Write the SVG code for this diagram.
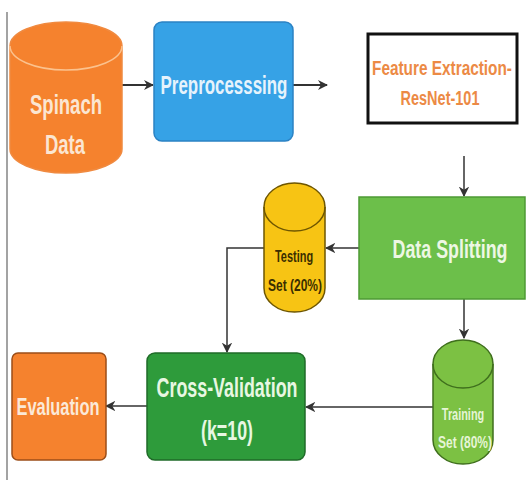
<svg xmlns="http://www.w3.org/2000/svg" width="531" height="485" viewBox="0 0 531 485">
<style>
text{font-family:"Liberation Sans",Arial,sans-serif;font-weight:bold;text-anchor:middle}
.lt{fill:#fbe6d2}
.conn{stroke:#333;stroke-width:2;fill:none}
.thin{stroke:#333;stroke-width:1.5;fill:none}
</style>
<defs>
<marker id="ah" viewBox="0 0 10 10" refX="9" refY="5" markerWidth="5" markerHeight="5" orient="auto" markerUnits="strokeWidth">
<path d="M0,0 L10,5 L0,10 L3,5 Z" fill="#333"/>
</marker>
<marker id="ah2" viewBox="0 0 10 10" refX="9" refY="5" markerWidth="7" markerHeight="7" orient="auto" markerUnits="strokeWidth">
<path d="M0,0 L10,5 L0,10 L3,5 Z" fill="#333"/>
</marker>
</defs>
<rect width="531" height="485" fill="#fff"/>
<line x1="7" y1="12" x2="7" y2="480" stroke="#666" stroke-width="1.2"/>
<g id="connectors">
<line class="conn" x1="122" y1="85" x2="153" y2="85" marker-end="url(#ah)"/>
<line class="conn" x1="293" y1="85" x2="327" y2="85" marker-end="url(#ah)"/>
<line class="thin" x1="464" y1="156" x2="464" y2="196" marker-end="url(#ah2)"/>
<line class="thin" x1="359" y1="248" x2="326" y2="248" marker-end="url(#ah2)"/>
<polyline class="thin" points="264,248 227,248 227,352" marker-end="url(#ah2)"/>
<line class="thin" x1="464" y1="299" x2="464" y2="338" marker-end="url(#ah2)"/>
<line class="thin" x1="433" y1="407" x2="306" y2="407" marker-end="url(#ah2)"/>
<line class="thin" x1="147" y1="406" x2="106" y2="406" marker-end="url(#ah2)"/>
</g>
<g id="spinach">
<path d="M10,46 A56,24 0 0,1 122,46 L122,149 A56,24 0 0,1 10,149 Z" fill="#f5822e" stroke="#f08a40" stroke-width="1.5"/>
<path d="M10,46 A56,24 0 0,0 122,46" fill="none" stroke="#fbc28e" stroke-width="1.5"/>
<text transform="translate(66,114) scale(0.686,1)" font-size="27" class="lt">Spinach</text>
<text transform="translate(65,154) scale(0.684,1)" font-size="27" class="lt">Data</text>
</g>
<g id="preprocessing">
<rect x="154" y="22" width="139" height="119" rx="8" fill="#36a2e6" stroke="#2b82c4" stroke-width="1.5"/>
<text transform="translate(224,94) scale(0.651,1)" font-size="26" fill="#e6f3fc">Preprocesssing</text>
</g>
<g id="feature">
<rect x="368" y="34" width="149" height="89" fill="#fff" stroke="#111" stroke-width="3"/>
<text transform="translate(442,75) scale(0.768,1)" font-size="20" fill="#ec8a45">Feature Extraction-</text>
<text transform="translate(440,105) scale(0.725,1)" font-size="20" fill="#ec8a45">ResNet-101</text>
</g>
<g id="splitting">
<rect x="359" y="197" width="166" height="102" fill="#6cbf4a" stroke="#4e9a35" stroke-width="1.5"/>
<text transform="translate(450,258) scale(0.686,1)" font-size="26" fill="#edf7e4">Data Splitting</text>
</g>
<g id="testing">
<path d="M264,207 A30.5,24 0 0,1 325,207 L325,288 A30.5,24 0 0,1 264,288 Z" fill="#f7c414" stroke="#6e5600" stroke-width="1.5"/>
<path d="M264,207 A30.5,24 0 0,0 325,207" fill="none" stroke="#6e5600" stroke-width="1.5"/>
<text transform="translate(294,262) scale(0.645,1)" font-size="17" fill="#3a2e00">Testing</text>
<text transform="translate(295,291) scale(0.706,1)" font-size="17" fill="#3a2e00">Set (20%)</text>
</g>
<g id="training">
<path d="M433,364 A30,24 0 0,1 493,364 L493,440 A30,24 0 0,1 433,440 Z" fill="#7cc143" stroke="#3f6f1d" stroke-width="1.5"/>
<path d="M433,364 A30,24 0 0,0 493,364" fill="none" stroke="#3f6f1d" stroke-width="1.5"/>
<text transform="translate(463,420) scale(0.641,1)" font-size="17" fill="#e6f5d6">Training</text>
<text transform="translate(465,448) scale(0.706,1)" font-size="17" fill="#e6f5d6">Set (80%)</text>
</g>
<g id="crossval">
<rect x="147" y="353" width="158" height="107" rx="8" fill="#2e9b3b" stroke="#1f6b28" stroke-width="1.5"/>
<text transform="translate(227,397) scale(0.662,1)" font-size="27" fill="#e8f7e2">Cross-Validation</text>
<text transform="translate(227,440) scale(0.66,1)" font-size="27" fill="#e8f7e2">(k=10)</text>
</g>
<g id="evaluation">
<rect x="12" y="353" width="94" height="107" rx="6" fill="#f5822e" stroke="#9c4e18" stroke-width="1.5"/>
<text transform="translate(58,415) scale(0.684,1)" font-size="24" fill="#fbe9d8">Evaluation</text>
</g>
</svg>
